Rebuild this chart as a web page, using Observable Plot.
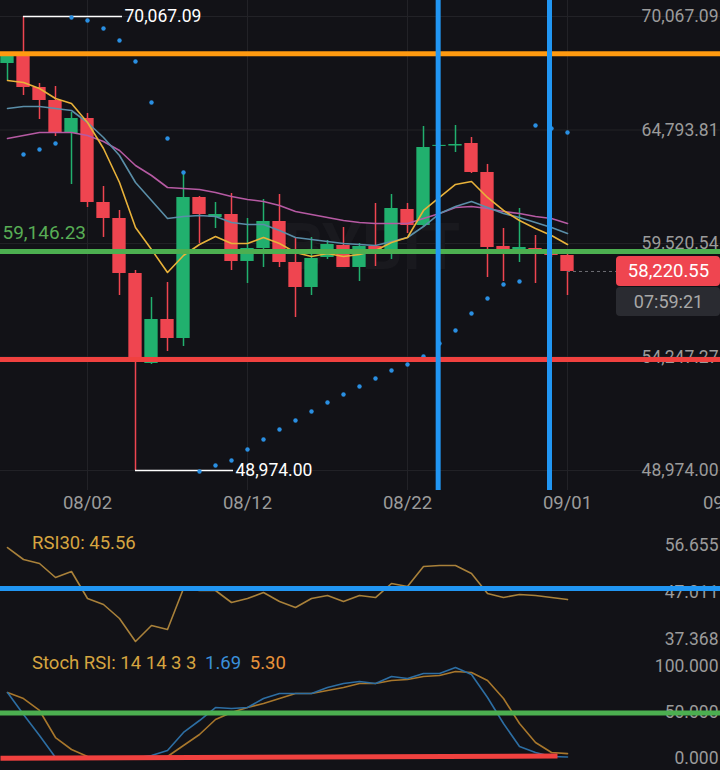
<!DOCTYPE html>
<html><head><meta charset="utf-8">
<script src="https://cdn.jsdelivr.net/npm/d3@7"></script>
<script src="https://cdn.jsdelivr.net/npm/@observablehq/plot@0.6"></script>
<style>
html,body{margin:0;padding:0;background:#121217;}
#chart{position:relative;width:720px;height:770px;overflow:hidden;background:#121217;font-family:Roboto,sans-serif;}
#chart svg{position:absolute;left:0;max-width:none !important;}
.legend{position:absolute;left:32px;font-size:18.5px;line-height:20px;white-space:pre;color:#d6a540;}
</style></head>
<body><div id="chart"></div>
<script>
// ---- data ----
const dates = ["2024-07-28","2024-07-29","2024-07-30","2024-07-31","2024-08-01","2024-08-02","2024-08-03","2024-08-04","2024-08-05","2024-08-06","2024-08-07","2024-08-08","2024-08-09","2024-08-10","2024-08-11","2024-08-12","2024-08-13","2024-08-14","2024-08-15","2024-08-16","2024-08-17","2024-08-18","2024-08-19","2024-08-20","2024-08-21","2024-08-22","2024-08-23","2024-08-24","2024-08-25","2024-08-26","2024-08-27","2024-08-28","2024-08-29","2024-08-30","2024-08-31","2024-09-01"];
const opens  = [67883,68255,66769,66165,64631,65328,61426,60682,58127,53946,55990,55107,61658,60728,60868,58685,59289,60543,58638,57476,58871,59428,58406,59382,59056,61101,60357,64030,64050,64167,62820,59382,59242,59289,59149,58963];
const highs  = [68394,70067.09,66954,66815,65607,65561,62169,61054,58266,57011,57708,62820,61704,61426,61843,60682,61565,61797,59753,59799,59661,60264,59521,61379,61797,61379,64957,64250,65002,64446,63193,60218,61147,59893,59242,59056];
const lows   = [67093,66397,65282,64492,62262,61193,59801,57105,48974,53900,54502,54735,59521,60218,58266,57663,58406,58406,56083,57105,58778,58406,57755,58452,58778,59985,60264,63900,63749,62773,57941,57755,58638,57663,58871,57105];
const closes = [68255,66769,66165,64631,65328,61426,60682,58127,53992,55990,55107,61658,60868,60868,58685,59289,60543,58638,57476,58824,59475,58406,59382,59010,61147,60357,63981,64080,64120,62820,59335,59242,59335,59196,58963,58220.55];
const maFast = [67094,67001,66722,66257,66025,65142,63934,62355,60264,59242,58173,58963,59474,59846,59521,59521,59799,59521,59102,58917,59056,58917,59010,59195,59567,59799,61054,61658,62262,62401,61658,61054,60589,60217,59892,59474];
const maMid  = [65793,65886,65886,65793,65700,65142,64445,63609,62355,61518,60682,60775,60822,60775,60496,60403,60403,60125,59799,59706,59613,59521,59474,59428,59613,59799,60310,60914,61240,61472,61193,60914,60729,60496,60264,59985];
const maSlow = [64399,64538,64678,64678,64678,64538,64260,63841,63145,62680,62122,62076,62029,61890,61704,61565,61472,61286,61007,60868,60729,60589,60496,60450,60450,60450,60682,60914,61193,61240,61147,61007,60914,60775,60682,60450];
const sar    = [null,63656,63888,64167,70021,69881,69510,68952,67976,66072,64399,62819,48928,49206,49439,49950,50414,50879,51297,51715,52133,52505,52877,53248,53620,53899,54271,54874,55478,56268,56965,57616,57755,65003,64863,64678];
const rsi    = [56.24,53.78,52.96,50.09,51.32,45.78,44.55,41.68,36.96,40.24,39.42,47.83,47.42,47.42,44.96,45.78,47.01,45.16,43.93,45.78,46.40,45.16,46.40,45.98,48.86,48.24,52.35,52.55,52.55,50.91,46.81,45.98,46.60,46.40,45.98,45.56];
const stochK = [71.7,47.8,25.0,1.1,0.5,0.5,0.5,0.5,0.5,3.3,8.7,28.3,41.3,55.4,54.3,55.4,65.2,70.7,70.7,70.7,77.2,81.5,83.7,81.5,89.1,87.0,92.4,92.4,98.9,91.3,66.3,38.0,13.0,6.5,2.2,1.69];
const stochD = [71.7,65.2,52.2,22.8,9.8,2.2,1.1,1.1,1.1,1.1,2.2,14.1,26.1,42.4,50.0,55.4,59.8,65.2,70.7,70.7,73.9,77.2,81.5,81.5,84.8,85.9,89.1,90.2,94.6,93.5,84.8,65.2,38.0,17.4,6.5,5.30];

const priceTicks = [70067.09, 64793.81, 59520.54, 54247.27, 48974.00];
const rsiTicks = [56.655, 47.011, 37.368];
const stochTicks = [100, 50, 0];
const xTickDates = ["2024-08-02","2024-08-12","2024-08-22","2024-09-01","2024-09-11"];

const orangeLevel = 68340, greenLevel = 59146.23, redLevel = 54130;
const blueVLines = ["2024-08-23T22:00Z","2024-08-30T21:00Z"];
const rsiBlueLevel = 47.83, stochGreenLevel = 49.5;
const stochRedLine = {x1:"2024-07-27T13:30Z", x2:"2024-08-31T09:00Z", y1:0.2, y2:2.7};
const highMark = {date:"2024-07-29", end:"2024-08-04T04:30Z", value:70067.09};
const lowMark  = {date:"2024-08-05", end:"2024-08-11T03:00Z", value:48974.00};
const lastPrice = 58220.55, countdown = "07:59:21";

// ---- config ----
const GREEN="#21b06e", RED="#ef4550", GRID="#222227", AXIS="#9b9b9b";
const HOUR = 3600e3;
const D = s => new Date(s.length === 10 ? s + "T00:00:00Z" : s);
const xDomain = [D("2024-07-27T13:30Z"), D("2024-09-10T13:30Z")];
const priceDomain = [48044.76, 70810.46];
const pxToPrice = (priceDomain[1]-priceDomain[0]) / 490;
const fmtPrice = d3.format(",.2f");
const fmt3 = d3.format(".3f");

const candles = dates.map((d,i)=>({
  date: D(d), open: opens[i], high: highs[i], low: lows[i], close: closes[i],
  up: closes[i] >= opens[i], maFast: maFast[i], maMid: maMid[i], maSlow: maSlow[i],
  sar: sar[i], rsi: rsi[i], k: stochK[i], d: stochD[i]
}));
const boxLeft = D("2024-09-04T01:30Z"), boxMid = D("2024-09-07T07:30Z");
const style = {background:"transparent", fontFamily:"Roboto, sans-serif", overflow:"visible", color: AXIS, maxWidth:"none"};
const container = document.getElementById("chart");

const main = Plot.plot({
  width: 740, height: 520, marginTop: 0, marginBottom: 30, marginLeft: 0, marginRight: 20,
  style,
  x: {type:"utc", domain: xDomain},
  y: {domain: priceDomain, axis: null},
  marks: [
    Plot.gridY(priceTicks, {stroke: GRID, strokeOpacity: 1}),
    Plot.gridX(xTickDates.map(D), {stroke: GRID, strokeOpacity: 1}),
    Plot.text(["BYBIT"], {x: D("2024-08-19T18:00Z"), y: 59300, text: d=>d, fontSize: 64, fontWeight: 700, fill: "#19191e"}),
    Plot.axisX(xTickDates.map(D), {tickSize: 0, tickPadding: 5, tickFormat: d3.utcFormat("%m/%d"), fontSize: 18.5, fill: AXIS, label: null}),
    Plot.text(priceTicks, {y: d=>d, text: d=>fmtPrice(d), frameAnchor: "right", textAnchor: "end", dx: -2, fill: AXIS, fontSize: 17.5}),
    Plot.ruleX(candles, {x: "date", y1: "low", y2: "high", stroke: d=>d.up?GREEN:RED, strokeWidth: 1.5}),
    Plot.rect(candles, {x1: d=>new Date(+d.date - 10*HOUR), x2: d=>new Date(+d.date + 10*HOUR), y1: "open", y2: "close", fill: d=>d.up?GREEN:RED}),
    Plot.lineY(candles, {x: "date", y: "maSlow", stroke: "#b65aa3", strokeWidth: 1.6}),
    Plot.lineY(candles, {x: "date", y: "maMid", stroke: "#5a8ea8", strokeWidth: 1.6}),
    Plot.lineY(candles, {x: "date", y: "maFast", stroke: "#e8b23a", strokeWidth: 1.6}),
    Plot.ruleY([highMark], {y: "value", x1: d=>D(d.date), x2: d=>D(d.end), stroke: "#ffffff", strokeWidth: 1.5}),
    Plot.ruleY([lowMark], {y: "value", x1: d=>D(d.date), x2: d=>D(d.end), stroke: "#ffffff", strokeWidth: 1.5}),
    Plot.dot(candles.filter(d=>d.sar!=null), {x: "date", y: "sar", r: 2.2, fill: "#2a8fe2", stroke: null}),
    Plot.text([highMark, lowMark], {x: d=>D(d.end), y: "value", text: d=>fmtPrice(d.value), textAnchor: "start", dx: 2, fill: "#ffffff", fontSize: 17.5}),
    Plot.ruleY([orangeLevel], {stroke: "#ff9a10", strokeWidth: 5}),
    Plot.ruleY([greenLevel], {stroke: "#4caf50", strokeWidth: 5}),
    Plot.ruleY([redLevel], {stroke: "#f0413f", strokeWidth: 5}),
    Plot.text([greenLevel], {y: d=>d, text: d=>fmtPrice(d), frameAnchor: "left", textAnchor: "start", dx: 2, dy: -19, fill: "#58ad55", fontSize: 19}),
    Plot.ruleX(blueVLines.map(D), {stroke: "#2196f3", strokeWidth: 5}),
    Plot.ruleY([lastPrice], {x1: candles[candles.length-1].date, x2: boxLeft, stroke: "#6e6e74", strokeDasharray: "3,3", strokeWidth: 1}),
    Plot.rect([lastPrice], {x1: boxLeft, x2: xDomain[1], y1: d=>d - 15*pxToPrice, y2: d=>d + 15*pxToPrice, fill: "#ef4550", rx: 4}),
    Plot.rect([lastPrice], {x1: boxLeft, x2: xDomain[1], y1: d=>d - 45*pxToPrice, y2: d=>d - 16*pxToPrice, fill: "#2a2b31", rx: 4}),
    Plot.text([lastPrice], {x: boxMid, y: d=>d, text: d=>fmtPrice(d), fill: "#ffffff", fontSize: 18.5}),
    Plot.text([countdown], {x: boxMid, y: lastPrice - 30.5*pxToPrice, text: d=>d, fill: "#a8a8a8", fontSize: 18})
  ]
});
main.style.top = "0px";
container.appendChild(main);

const rsiPlot = Plot.plot({
  width: 740, height: 125, marginTop: 0, marginBottom: 0, marginLeft: 0, marginRight: 20,
  style,
  x: {type:"utc", domain: xDomain, axis: null},
  y: {domain: [36.137, 61.785], axis: null},
  marks: [
    Plot.text(rsiTicks, {y: d=>d, text: d=>fmt3(d), frameAnchor: "right", textAnchor: "end", dx: -2, fill: AXIS, fontSize: 17.5}),
    Plot.lineY(candles, {x: "date", y: "rsi", stroke: "#a9813a", strokeWidth: 1.6}),
    Plot.ruleY([rsiBlueLevel], {stroke: "#2196f3", strokeWidth: 5})
  ]
});
rsiPlot.style.top = "520px";
container.appendChild(rsiPlot);

const stochPlot = Plot.plot({
  width: 740, height: 125, marginTop: 0, marginBottom: 0, marginLeft: 0, marginRight: 20,
  style,
  x: {type:"utc", domain: xDomain, axis: null},
  y: {domain: [-13.04, 122.83], axis: null},
  marks: [
    Plot.text(stochTicks, {y: d=>d, text: d=>fmt3(d), frameAnchor: "right", textAnchor: "end", dx: -2, fill: AXIS, fontSize: 17.5}),
    Plot.lineY(candles, {x: "date", y: "d", stroke: "#a8772c", strokeWidth: 1.6}),
    Plot.lineY(candles, {x: "date", y: "k", stroke: "#2d6ea3", strokeWidth: 1.6}),
    Plot.ruleY([stochGreenLevel], {stroke: "#4caf50", strokeWidth: 5}),
    Plot.link([stochRedLine], {x1: d=>D(d.x1), x2: d=>D(d.x2), y1: "y1", y2: "y2", stroke: "#f0413f", strokeWidth: 5})
  ]
});
stochPlot.style.top = "645px";
container.appendChild(stochPlot);

// legends
const l1 = document.createElement("div");
l1.className = "legend"; l1.style.top = "533px";
l1.textContent = "RSI30: " + rsi[rsi.length-1].toFixed(2);
container.appendChild(l1);
const l2 = document.createElement("div");
l2.className = "legend"; l2.style.top = "653px";
l2.innerHTML = `Stoch RSI: 14 14 3 3 <span style="color:#3a8fd9;margin-left:4px">${stochK[stochK.length-1].toFixed(2)}</span> <span style="color:#e8923a;margin-left:4px">${stochD[stochD.length-1].toFixed(2)}</span>`;
container.appendChild(l2);
</script>
</body></html>
